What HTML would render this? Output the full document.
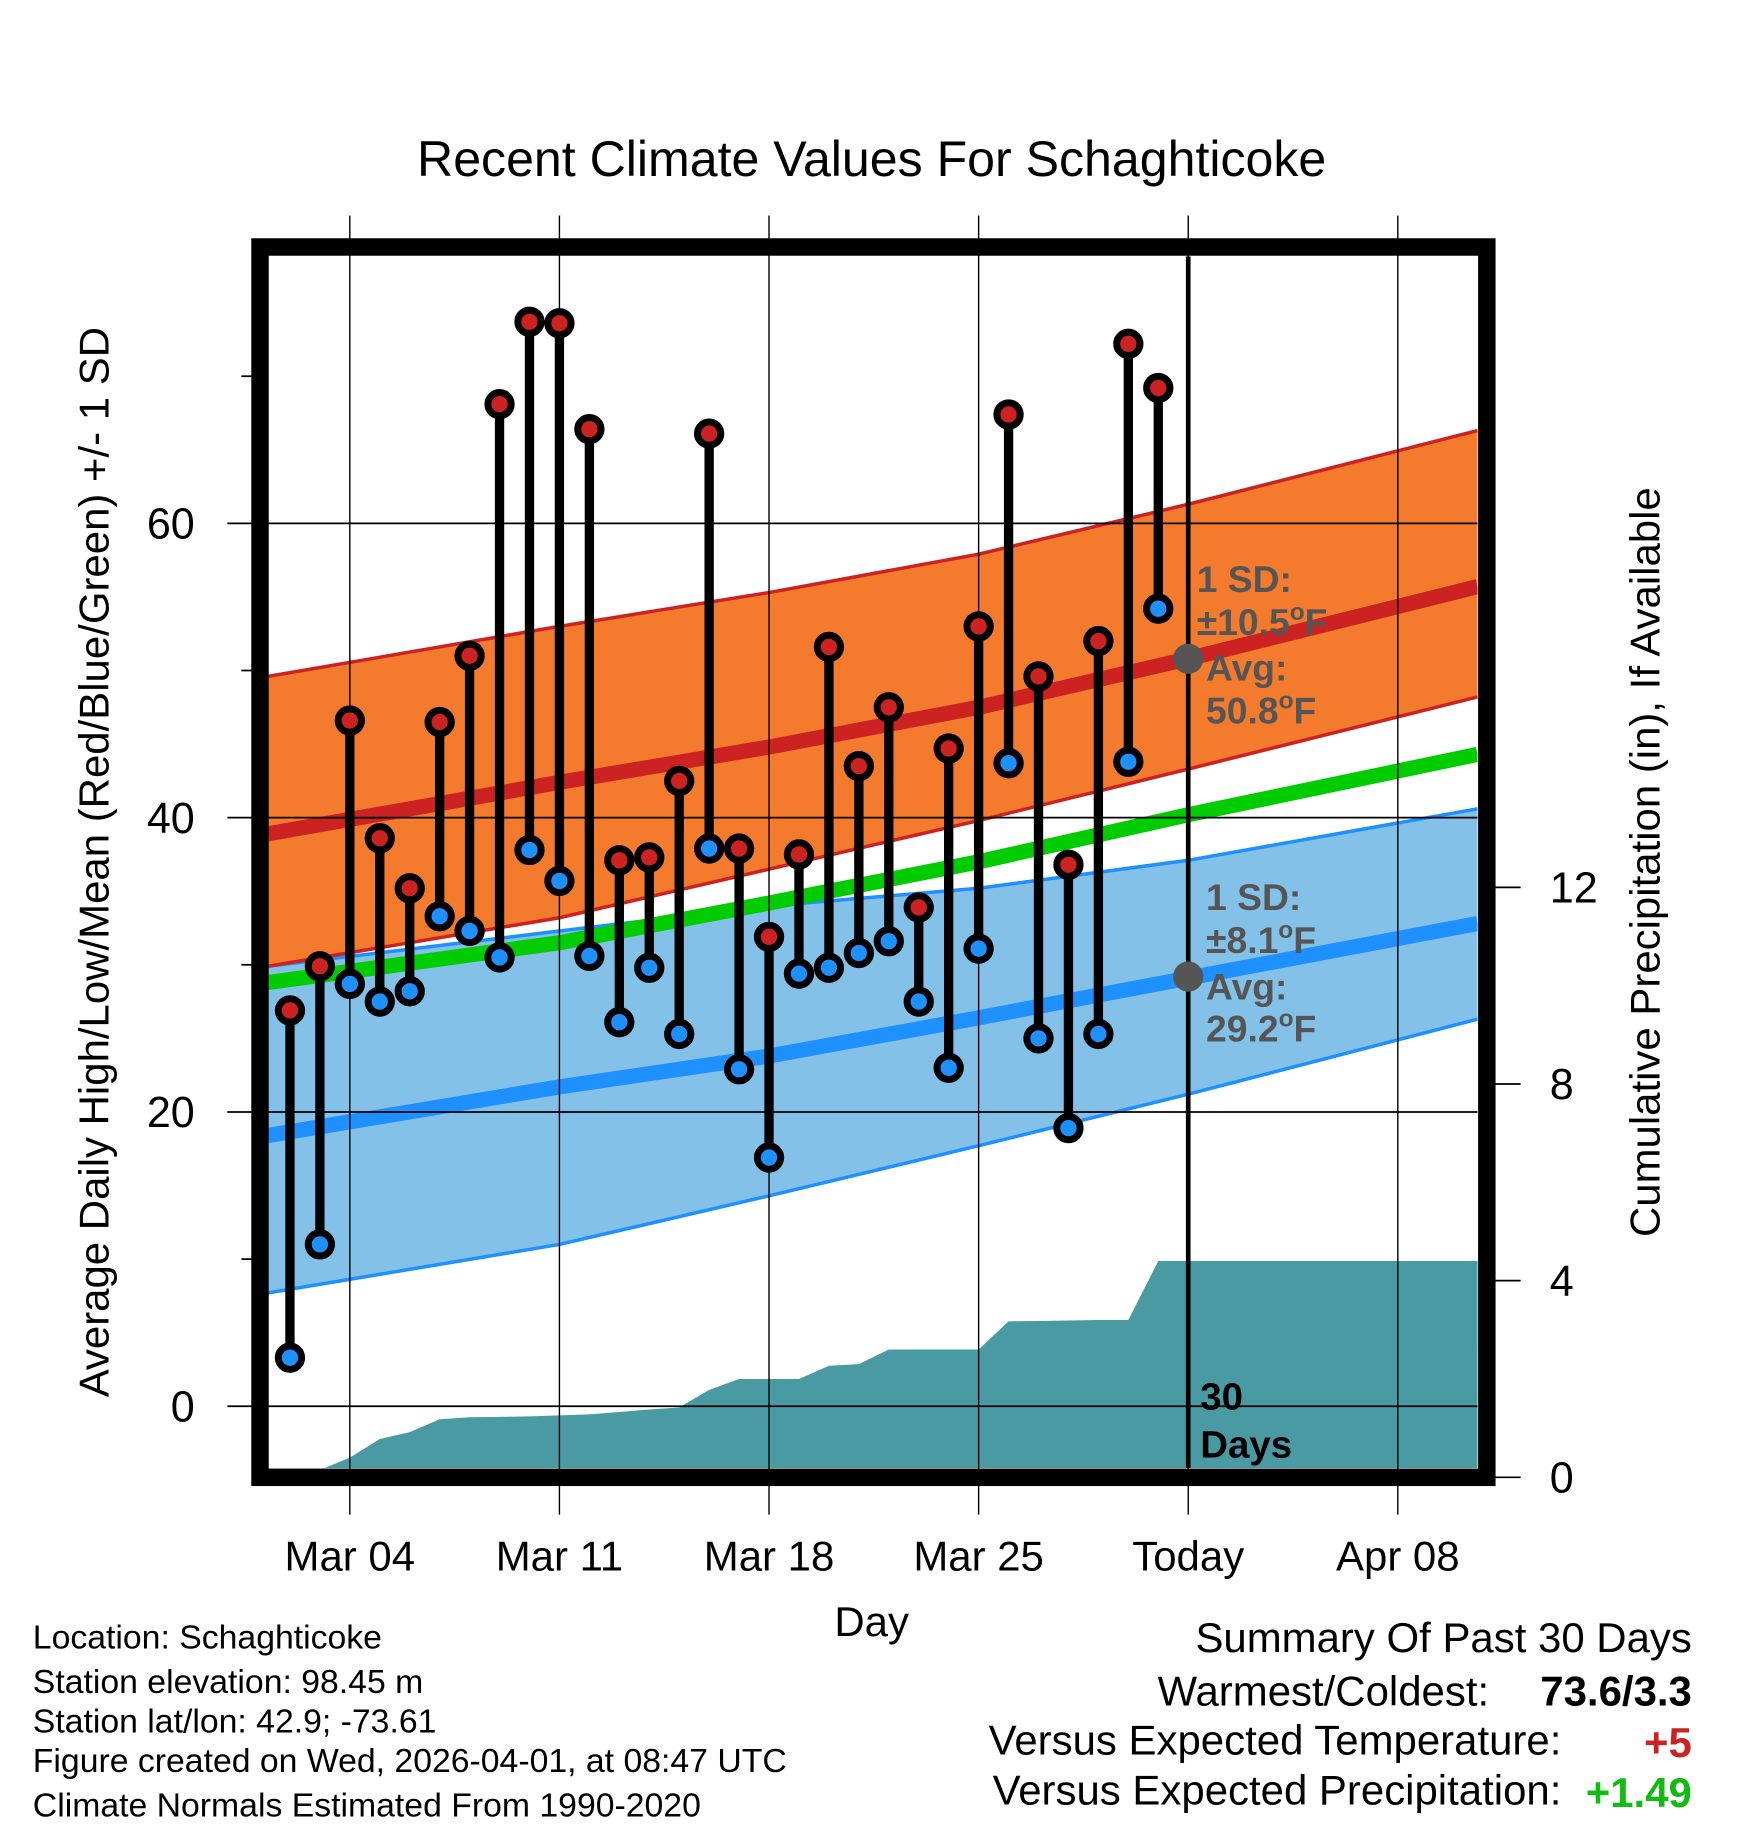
<!DOCTYPE html>
<html><head><meta charset="utf-8"><style>
html,body{margin:0;padding:0;background:#fff;}
svg{display:block;font-family:"Liberation Sans",Arial,sans-serif;}
</style></head><body>
<svg id="chart" width="1748" height="1828" viewBox="0 0 1500 1569" xmlns="http://www.w3.org/2000/svg">
<defs><clipPath id="plotclip"><rect x="230" y="220" width="1038" height="1040"/></clipPath></defs>
<g id="bands" clip-path="url(#plotclip)"></g>
<g id="grid"></g>
<g id="marks" clip-path="url(#plotclip)"></g>
<rect x="223" y="212" width="1053" height="1056" fill="none" stroke="#000" stroke-width="15"/>
<g id="labels"></g>
<text x="748" y="151" font-size="43" text-anchor="middle">Recent Climate Values For Schaghticoke</text>
<text transform="translate(93,740) rotate(-90)" font-size="36" text-anchor="middle">Average Daily High/Low/Mean (Red/Blue/Green) +/- 1 SD</text>
<text transform="translate(1424,740) rotate(-90)" font-size="36" text-anchor="middle">Cumulative Precipitation (in), If Available</text>
<text x="748" y="1404" font-size="36" text-anchor="middle">Day</text>
<g font-size="29">
<text x="28" y="1415">Location: Schaghticoke</text>
<text x="28" y="1453">Station elevation: 98.45 m</text>
<text x="28" y="1487">Station lat/lon: 42.9; -73.61</text>
<text x="28" y="1521">Figure created on Wed, 2026-04-01, at 08:47 UTC</text>
<text x="28" y="1559">Climate Normals Estimated From 1990-2020</text>
</g>
<g font-size="36" text-anchor="end">
<text x="1452" y="1418">Summary Of Past 30 Days</text>
<text x="1278" y="1464">Warmest/Coldest:</text>
<text x="1452" y="1464" font-weight="bold">73.6/3.3</text>
<text x="1340" y="1506">Versus Expected Temperature:</text>
<text x="1452" y="1508" font-weight="bold" fill="#cc2222">+5</text>
<text x="1340" y="1549">Versus Expected Precipitation:</text>
<text x="1452" y="1551" font-weight="bold" fill="#11bb11">+1.49</text>
</g>
<script>
const highs=[26.9,29.9,46.6,38.6,35.2,46.5,51.0,68.1,73.7,73.6,66.4,37.1,37.3,42.5,66.1,37.9,31.9,37.5,51.6,43.5,47.5,33.9,44.7,53.0,67.4,49.6,36.8,52.0,72.2,69.2];
const lows=[3.3,11.0,28.7,27.5,28.2,33.3,32.3,30.5,37.8,35.7,30.6,26.1,29.8,25.3,37.9,22.9,16.9,29.4,29.8,30.8,31.6,27.5,23.0,31.1,43.7,25.0,18.9,25.3,43.8,54.2];
const normDays=[0.27,10,17,24,31,40.66];
const normHigh=[38.9,42.4,44.8,47.5,50.8,55.7];
const highUpper=[49.6,53.0,55.3,57.9,61.3,66.3];
const highLower=[29.9,33.2,36.5,39.8,43.3,48.2];
const normLow=[18.4,21.7,23.8,26.4,29.1,32.8];
const lowUpper=[29.9,32.3,34.0,35.2,37.1,40.6];
const lowLower=[7.7,11.0,14.3,17.7,21.2,26.3];
const normMean=[28.8,31.5,34.2,37.0,40.2,44.3];
const sdHighToday=10.5, sdLowToday=8.1, avgHighToday=50.8, avgLowToday=29.2;
const precipDays=[1.67,2,3,4,5,6,7,8,9,10,11,12,13,14,15,16,17,18,19,20,21,22,23,24,25,26,27,28,29,30,40.66];
const precipVals=[0,0.15,0.4,0.78,0.92,1.18,1.22,1.23,1.24,1.26,1.28,1.33,1.38,1.42,1.78,2.0,2.0,2.0,2.27,2.3,2.6,2.6,2.6,2.6,3.17,3.18,3.19,3.2,3.2,4.4,4.4];
const yTicks=[0,20,40,60];
const yMinor=[10,30,50,70];
const y2Ticks=[0,4,8,12];
const xTickDays=[3,10,17,24,31,38];
const xTickLabels=["Mar 04","Mar 11","Mar 18","Mar 25","Today","Apr 08"];
const firstDay=1, todayIdx=31;

const NS="http://www.w3.org/2000/svg";
const X=d=>223+25.7*d;
const Y=v=>1207-12.63*v;
const Y2=v=>1268-42.2*v;
function mk(tag,attrs,parent){const e=document.createElementNS(NS,tag);for(const k in attrs)e.setAttribute(k,attrs[k]);parent.appendChild(e);return e;}
const bands=document.getElementById('bands'),grid=document.getElementById('grid'),marks=document.getElementById('marks'),labels=document.getElementById('labels');
function line(arr){return arr.map((v,i)=>(i?'L':'M')+X(normDays[i]).toFixed(1)+','+Y(v).toFixed(1)).join(' ');}
function band(up,lo){let d=line(up);for(let i=lo.length-1;i>=0;i--)d+=' L'+X(normDays[i]).toFixed(1)+','+Y(lo[i]).toFixed(1);return d+' Z';}
// precipitation
let pd='M'+X(precipDays[0])+','+Y2(0);
precipDays.forEach((d,i)=>{pd+=' L'+X(d).toFixed(1)+','+Y2(precipVals[i]).toFixed(1);});
pd+=' L'+X(precipDays[precipDays.length-1])+','+Y2(0)+' Z';
let e=mk('path',{d:pd,fill:'#4a9aa3'},bands);


e=mk('path',{d:band(lowUpper,lowLower),fill:'#84c1e8'},bands);


mk('path',{d:line(lowUpper),fill:'none',stroke:'#1e90ff','stroke-width':3},bands);
mk('path',{d:line(lowLower),fill:'none',stroke:'#1e90ff','stroke-width':3},bands);
e=mk('path',{d:band(highUpper,highLower),fill:'#f47a2e'},bands);


mk('path',{d:line(highUpper),fill:'none',stroke:'#cc2222','stroke-width':3},bands);
mk('path',{d:line(highLower),fill:'none',stroke:'#cc2222','stroke-width':3},bands);
e=mk('path',{d:line(normHigh),fill:'none',stroke:'#cc2222','stroke-width':13},bands);


e=mk('path',{d:line(normLow),fill:'none',stroke:'#1e90ff','stroke-width':13},bands);


e=mk('path',{d:line(normMean),fill:'none',stroke:'#00cc00','stroke-width':13},bands);


// grid
yTicks.forEach(v=>{mk('line',{x1:195,x2:1268,y1:Y(v),y2:Y(v),stroke:'#000','stroke-width':1.5},grid);
 const t=mk('text',{x:167,y:Y(v)+13,'font-size':37,'text-anchor':'end'},labels);t.textContent=v;
 
 });
yMinor.forEach(v=>mk('line',{x1:207,x2:216,y1:Y(v),y2:Y(v),stroke:'#000','stroke-width':1.5},grid));
y2Ticks.forEach(v=>{mk('line',{x1:1283,x2:1305,y1:Y2(v),y2:Y2(v),stroke:'#000','stroke-width':1.5},grid);
 const t=mk('text',{x:1330,y:Y2(v)+13,'font-size':37},labels);t.textContent=v;
 
 });
xTickDays.forEach((d,i)=>{mk('line',{x1:X(d),x2:X(d),y1:185,y2:1300,stroke:'#000','stroke-width':1.2},grid);
 const t=mk('text',{x:X(d),y:1348,'font-size':36,'text-anchor':'middle'},labels);t.textContent=xTickLabels[i];
 
 });
// today line
e=mk('line',{x1:X(todayIdx),x2:X(todayIdx),y1:220,y2:1262,stroke:'#000','stroke-width':4},marks);


// stems
highs.forEach((h,i)=>{const x=X(firstDay+i);
 const s=mk('line',{x1:x,x2:x,y1:Y(h),y2:Y(lows[i]),stroke:'#000','stroke-width':8},marks);
 
 });
highs.forEach((h,i)=>{const x=X(firstDay+i);
 const a=mk('circle',{cx:x,cy:Y(h),r:10,fill:'#cc2222',stroke:'#000','stroke-width':6},marks);
 
 
 const b=mk('circle',{cx:x,cy:Y(lows[i]),r:10,fill:'#1e90ff',stroke:'#000','stroke-width':6},marks);
 
 });
// annotations
const tx=X(todayIdx);
e=mk('circle',{cx:tx,cy:Y(avgHighToday),r:13,fill:'#555'},marks);


e=mk('circle',{cx:tx,cy:Y(avgLowToday),r:13,fill:'#555'},marks);


function ann(x,y,txt,deg,name){const t=mk('text',{x:x,y:y,'font-size':32,'font-weight':'bold',fill:'#555'},labels);
 const a=mk('tspan',{},t);a.textContent=txt;
 if(deg){const o=mk('tspan',{dy:-13,'font-size':21},t);o.textContent='o';
  const f=mk('tspan',{dy:13},t);f.textContent='F';}
 
 }
ann(1027,508,'1 SD:',false,'high-sd-label');
ann(1027,545,'±'+sdHighToday.toFixed(1),true,'high-sd-value');
ann(1035,584,'Avg:',false,'high-avg-label');
ann(1035,621,avgHighToday.toFixed(1),true,'high-avg-value');
ann(1035,781,'1 SD:',false,'low-sd-label');
ann(1035,818,'±'+sdLowToday.toFixed(1),true,'low-sd-value');
ann(1035,858,'Avg:',false,'low-avg-label');
ann(1035,894,avgLowToday.toFixed(1),true,'low-avg-value');
let t=mk('text',{x:1030,y:1210,'font-size':33,'font-weight':'bold'},labels);t.textContent='30';


t=mk('text',{x:1030,y:1251,'font-size':33,'font-weight':'bold'},labels);t.textContent='Days';


</script>
</svg>
</body></html>
